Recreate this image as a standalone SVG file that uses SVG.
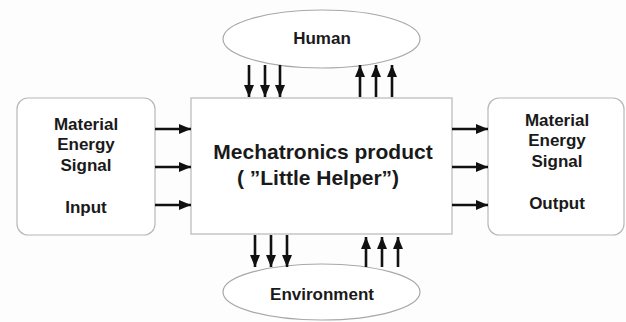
<svg xmlns="http://www.w3.org/2000/svg" width="626" height="322" viewBox="0 0 626 322">
<defs>
<style>
.box{fill:#fff;stroke:#b8b8b8;stroke-width:1.2}
.ell{fill:#fff;stroke:#a8a8a8;stroke-width:1.2}
.t{font-family:"Liberation Sans",Arial,sans-serif;font-weight:bold;fill:#1a1a1a;text-anchor:middle}
.s{font-size:17px}
.m{font-size:21px}
.a{stroke:#111;stroke-width:2.6;fill:none;marker-end:url(#ah)}
</style>
<marker id="ah" markerUnits="userSpaceOnUse" markerWidth="12" markerHeight="10" refX="12" refY="5" orient="auto" viewBox="0 0 12 10">
<path d="M0,0 L12,5 L0,10 z" fill="#111"/>
</marker>
</defs>
<rect width="626" height="322" fill="#fdfdfd"/>
<g id="human">
<ellipse class="ell" cx="321.5" cy="39" rx="98.5" ry="29"/>
<text class="t s" x="322" y="44">Human</text>
</g>
<g id="input">
<rect class="box" x="17" y="98" width="138" height="137" rx="11"/>
<text class="t s" x="86" y="130">Material</text>
<text class="t s" x="86" y="150">Energy</text>
<text class="t s" x="86" y="171">Signal</text>
<text class="t s" x="86" y="213">Input</text>
</g>
<g id="product">
<rect class="box" x="191" y="98" width="261" height="136"/>
<text class="t m" x="323" y="159">Mechatronics product</text>
<text class="t m" x="318" y="185">( ”Little Helper”)</text>
</g>
<g id="output">
<rect class="box" x="488" y="98" width="136" height="137" rx="11"/>
<text class="t s" x="557" y="126">Material</text>
<text class="t s" x="557" y="146">Energy</text>
<text class="t s" x="557" y="167">Signal</text>
<text class="t s" x="557" y="209">Output</text>
</g>
<g id="environment">
<ellipse class="ell" cx="321.5" cy="292" rx="98.5" ry="28"/>
<text class="t s" x="322" y="300">Environment</text>
</g>
<g id="connectors">
<line class="a" x1="155" y1="129" x2="191" y2="129"/>
<line class="a" x1="155" y1="167" x2="191" y2="167"/>
<line class="a" x1="155" y1="205" x2="191" y2="205"/>
<line class="a" x1="452" y1="129" x2="488" y2="129"/>
<line class="a" x1="452" y1="167" x2="488" y2="167"/>
<line class="a" x1="452" y1="205" x2="488" y2="205"/>
<line class="a" x1="249" y1="65" x2="249" y2="97"/>
<line class="a" x1="265" y1="65" x2="265" y2="97"/>
<line class="a" x1="280" y1="65" x2="280" y2="97"/>
<line class="a" x1="360" y1="97" x2="360" y2="65"/>
<line class="a" x1="376" y1="97" x2="376" y2="65"/>
<line class="a" x1="392" y1="97" x2="392" y2="65"/>
<line class="a" x1="255" y1="235" x2="255" y2="267"/>
<line class="a" x1="271" y1="235" x2="271" y2="267"/>
<line class="a" x1="287" y1="235" x2="287" y2="267"/>
<line class="a" x1="366" y1="267" x2="366" y2="237"/>
<line class="a" x1="382" y1="267" x2="382" y2="237"/>
<line class="a" x1="398" y1="267" x2="398" y2="237"/>
</g>
</svg>
